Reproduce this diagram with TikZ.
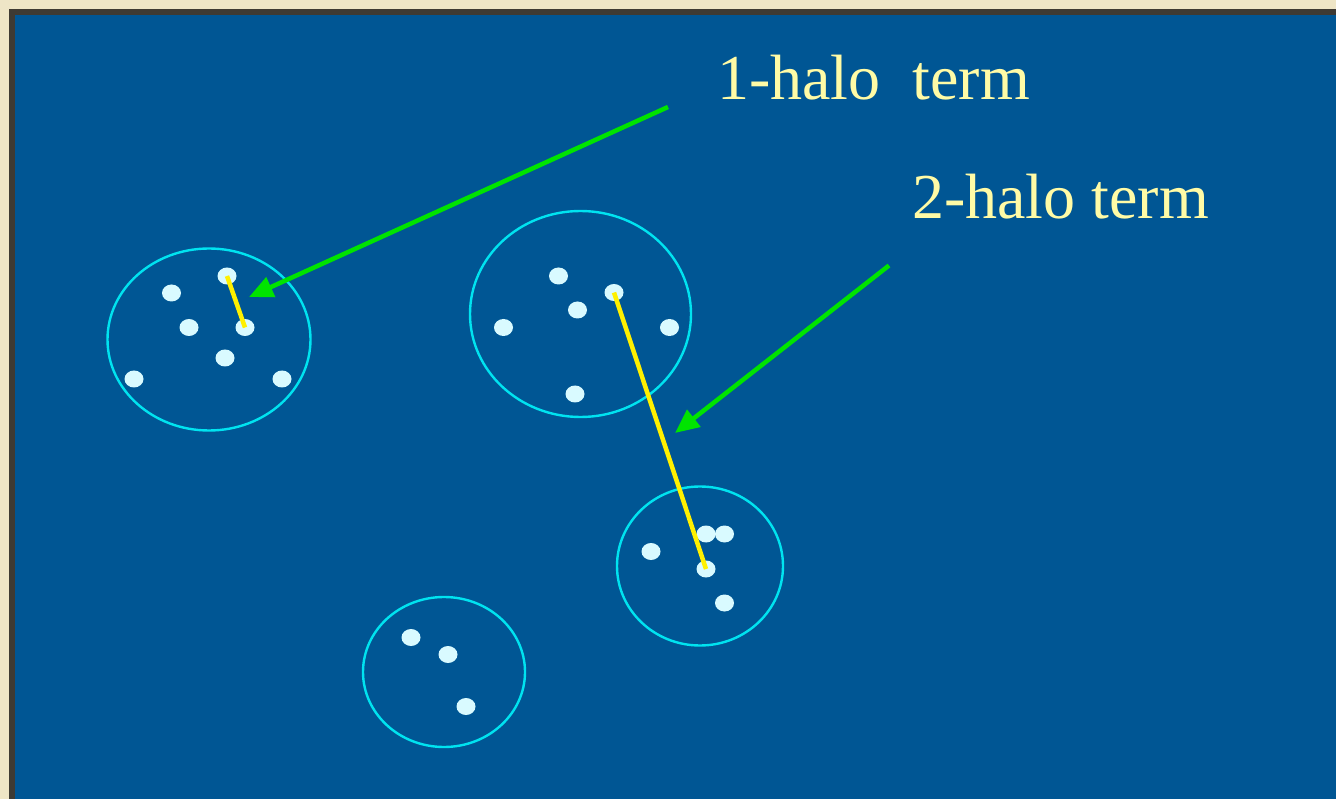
\documentclass[tikz,border=0pt]{standalone}
\usepackage{fontspec}
\setmainfont{Liberation Serif}
\usetikzlibrary{arrows.meta,shapes.geometric}
\definecolor{beige}{HTML}{EEE5C6}
\definecolor{frame}{HTML}{3E3A33}
\definecolor{bg}{HTML}{005694}
\definecolor{halo}{HTML}{00E3F0}
\definecolor{gal}{HTML}{D9FAFF}
\definecolor{lbl}{HTML}{FFFBA6}
\definecolor{arr}{HTML}{00E400}
\definecolor{pair}{HTML}{FFF000}
\begin{document}
\begin{tikzpicture}[x=1pt,y=-1pt,
  halocirc/.style={draw=halo,line width=2.4pt},
  galaxy/.style={ellipse,fill=gal,minimum width=19pt,minimum height=17pt,inner sep=0pt},
  pairline/.style={draw=pair,line width=4.5pt},
  pointer/.style={draw=arr,line width=4.5pt,-{Triangle[length=24pt,width=21pt]}},
  label/.style={text=lbl,font=\fontsize{64}{64}\selectfont,anchor=base west,inner sep=0pt}]
\fill[beige] (0,0) rectangle (1336,799);
\fill[frame] (9,9) rectangle (1336,799);
\fill[bg] (15,15) rectangle (1336,799);
\useasboundingbox (0,0) rectangle (1336,799);
% halos
\draw[halocirc] (209,339.5) ellipse [x radius=101.5,y radius=91];
\draw[halocirc] (580.5,314) ellipse [x radius=110.5,y radius=103];
\draw[halocirc] (700,566) ellipse [x radius=83,y radius=79.5];
\draw[halocirc] (444,672) ellipse [x radius=81,y radius=75];
% galaxies
\node[galaxy] (a1) at (171.5,293) {};
\node[galaxy] (a2) at (227,276) {};
\node[galaxy] (a3) at (189,327.5) {};
\node[galaxy] (a4) at (245,327.5) {};
\node[galaxy] (a5) at (225,358) {};
\node[galaxy] (a6) at (134,379) {};
\node[galaxy] (a7) at (282,379) {};
\node[galaxy] (b1) at (558.5,276) {};
\node[galaxy] (b2) at (614,292.5) {};
\node[galaxy] (b3) at (577.5,310) {};
\node[galaxy] (b4) at (503.5,327.5) {};
\node[galaxy] (b5) at (669.5,327.5) {};
\node[galaxy] (b6) at (575,394) {};
\node[galaxy] (c1) at (651,551.5) {};
\node[galaxy] (c2) at (706,534) {};
\node[galaxy] (c3) at (724.5,534) {};
\node[galaxy] (c4) at (706,569) {};
\node[galaxy] (c5) at (724.5,603) {};
\node[galaxy] (d1) at (411,637.5) {};
\node[galaxy] (d2) at (448,654.5) {};
\node[galaxy] (d3) at (466,706.5) {};
% pair lines
\draw[pairline] (a2.center) -- (a4.center);
\draw[pairline] (b2.center) -- (c4.center);
% labels
\node[label] (t1) at (717,100) {1-halo~~term};
\node[label] (t2) at (912,219) {2-halo term};
% pointers
\coordinate (s1) at (668,107);
\coordinate (e1) at (249,297);
\coordinate (s2) at (889,265.5);
\coordinate (e2) at (675,433);
\draw[pointer] (s1) -- (e1);
\draw[pointer] (s2) -- (e2);
\end{tikzpicture}
\end{document}
